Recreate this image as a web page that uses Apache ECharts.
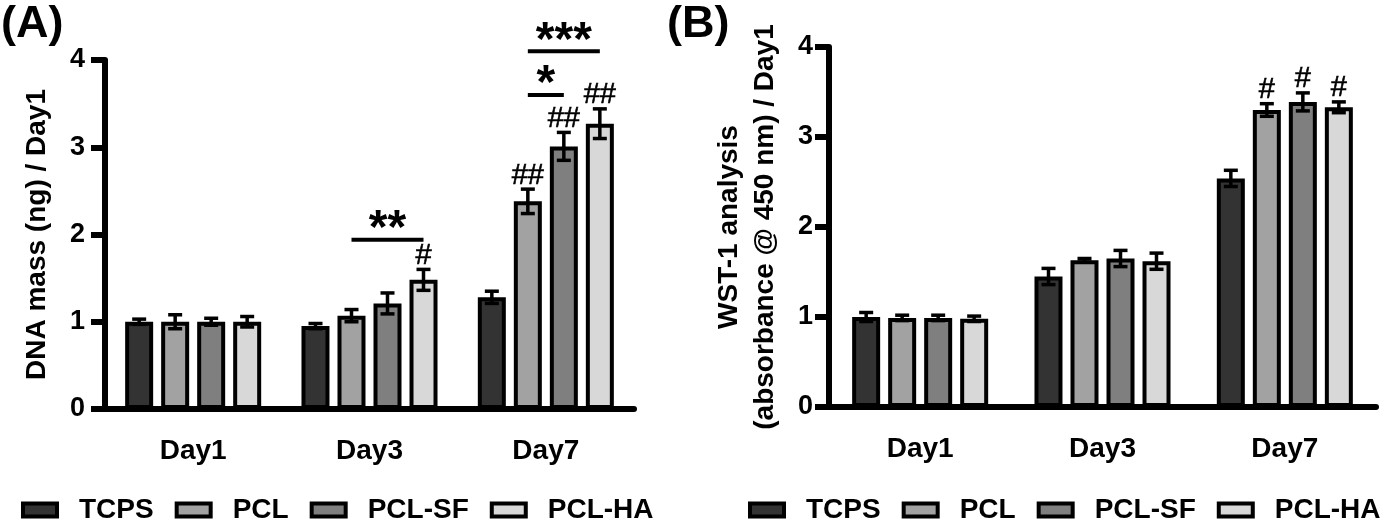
<!DOCTYPE html>
<html><head><meta charset="utf-8">
<script src="https://cdn.jsdelivr.net/npm/echarts@6/dist/echarts.min.js"></script>
<style>html,body{margin:0;padding:0;background:#fff}#c{width:1400px;height:520px}</style>
</head><body><div id="c"></div>
<script>
const categories = ['Day1', 'Day3', 'Day7'];
const groups = ['TCPS', 'PCL', 'PCL-SF', 'PCL-HA'];
const colors = ['#333333', '#a2a2a2', '#7f7f7f', '#d8d8d8'];
const yTicks = [0, 1, 2, 3, 4];

// Panel A: DNA mass (ng) / Day1
const dnaTCPS = [1.00, 0.95, 1.28];
const dnaPCL = [1.00, 1.07, 2.38];
const dnaPCLSF = [1.00, 1.21, 3.01];
const dnaPCLHA = [1.00, 1.48, 3.27];
const dnaErrTCPS = [0.03, 0.03, 0.07];
const dnaErrPCL = [0.08, 0.07, 0.14];
const dnaErrPCLSF = [0.04, 0.12, 0.16];
const dnaErrPCLHA = [0.06, 0.12, 0.17];

// Panel B: WST-1 (absorbance @ 450 nm) / Day1
const wstTCPS = [1.00, 1.45, 2.54];
const wstPCL = [0.99, 1.63, 3.30];
const wstPCLSF = [0.99, 1.65, 3.39];
const wstPCLHA = [0.98, 1.62, 3.33];
const wstErrTCPS = [0.05, 0.09, 0.09];
const wstErrPCL = [0.03, 0.02, 0.07];
const wstErrPCLSF = [0.03, 0.09, 0.10];
const wstErrPCLHA = [0.03, 0.09, 0.06];

// significance marks: [category index, group index, label]
const hashA = [[1, 3, '#'], [2, 1, '##'], [2, 2, '##'], [2, 3, '##']];
const hashB = [[2, 1, '#'], [2, 2, '#'], [2, 3, '#']];
// brackets: [category index, from group, to group, y value, label]
const bracketsA = [[1, 1, 3, 1.94, '**'], [2, 1, 2, 3.60, '*'], [2, 1, 3, 4.10, '***']];

const valsA = [dnaTCPS, dnaPCL, dnaPCLSF, dnaPCLHA];
const errsA = [dnaErrTCPS, dnaErrPCL, dnaErrPCLSF, dnaErrPCLHA];
const valsB = [wstTCPS, wstPCL, wstPCLSF, wstPCLHA];
const errsB = [wstErrTCPS, wstErrPCL, wstErrPCLSF, wstErrPCLHA];

const FONT = 'Liberation Sans';
const BAR_W = 28, STEP = 36;

function errData(vals, errs, hashes) {
  const out = [];
  vals.forEach((arr, g) => arr.forEach((v, c) => {
    const h = hashes.find(x => x[0] === c && x[1] === g);
    out.push([c, g, v, errs[g][c], h ? h[2] : '']);
  }));
  return out;
}

function errRender(params, api) {
  const c = api.value(0), g = api.value(1), v = api.value(2), e = api.value(3);
  const lab = api.value(4);
  const x = api.coord([c, v])[0] + (g - 1.5) * STEP;
  const yt = api.coord([c, v + e])[1];
  const yb = api.coord([c, v - e])[1];
  const st = { stroke: '#000', lineWidth: 3.5 };
  const ch = [
    { type: 'line', shape: { x1: x, y1: yt, x2: x, y2: yb }, style: st },
    { type: 'line', shape: { x1: x - 7, y1: yt, x2: x + 7, y2: yt }, style: st },
    { type: 'line', shape: { x1: x - 7, y1: yb, x2: x + 7, y2: yb }, style: st }
  ];
  if (lab) {
    ch.push({ type: 'text', style: { text: lab, x: x, y: yt + 1, align: 'center', verticalAlign: 'bottom',
      font: 'normal 29px "' + FONT + '"', fill: '#000', stroke: '#000', lineWidth: 0.6 } });
  }
  return { type: 'group', children: ch };
}

function bracketRender(params, api) {
  const c = api.value(0), a = api.value(1), b = api.value(2), y = api.value(3), lab = api.value(4);
  const cx = api.coord([c, y]);
  const x1 = cx[0] + (a - 1.5) * STEP, x2 = cx[0] + (b - 1.5) * STEP;
  return { type: 'group', children: [
    { type: 'line', shape: { x1: x1, y1: cx[1], x2: x2, y2: cx[1] }, style: { stroke: '#000', lineWidth: 4 } },
    { type: 'text', style: { text: lab, x: (x1 + x2) / 2, y: cx[1] - 10, align: 'center', verticalAlign: 'middle',
      font: 'bold 48px "' + FONT + '"', fill: '#000' } }
  ] };
}

const series = [];
[valsA, valsB].forEach((vals, p) => {
  vals.forEach((arr, g) => series.push({
    name: groups[g], type: 'bar', xAxisIndex: p, yAxisIndex: p, data: arr,
    barWidth: BAR_W, barGap: '28.6%',
    itemStyle: { color: colors[g], borderColor: '#000', borderWidth: 4 }
  }));
});
series.push({ type: 'custom', xAxisIndex: 0, yAxisIndex: 0, z: 5, clip: false,
  data: errData(valsA, errsA, hashA), renderItem: errRender });
series.push({ type: 'custom', xAxisIndex: 1, yAxisIndex: 1, z: 5, clip: false,
  data: errData(valsB, errsB, hashB), renderItem: errRender });
series.push({ type: 'custom', xAxisIndex: 0, yAxisIndex: 0, z: 5, clip: false,
  data: bracketsA, renderItem: bracketRender });

function xAx(i) {
  return { type: 'category', gridIndex: i, data: categories,
    axisLine: { lineStyle: { color: '#000', width: 6 } },
    axisTick: { alignWithLabel: true, length: 17, lineStyle: { color: '#000', width: 6 } },
    axisLabel: { color: '#000', fontSize: 28, fontWeight: 'bold', margin: 28, fontFamily: FONT } };
}
function yAx(i, name, gap, lm) {
  return { type: 'value', gridIndex: i, min: 0, max: 4, interval: 1,
    name: name, nameLocation: 'middle', nameGap: gap, nameRotate: 90,
    nameTextStyle: { color: '#000', fontSize: 28, fontWeight: 'bold', fontFamily: FONT, lineHeight: 36 },
    axisLine: { show: true, lineStyle: { color: '#000', width: 6 } },
    axisTick: { show: true, length: 14, lineStyle: { color: '#000', width: 6 } },
    splitLine: { show: false },
    axisLabel: { color: '#000', fontSize: 27, fontWeight: 'bold', margin: lm, fontFamily: FONT } };
}
function leg(left) {
  return { data: groups, left: left, top: 490, icon: 'rect', itemWidth: 34, itemHeight: 13, itemGap: 21,
    itemStyle: { borderColor: '#000', borderWidth: 4 }, selectedMode: false,
    textStyle: { color: '#000', fontSize: 28, fontWeight: 'bold', fontFamily: FONT, padding: [0, 0, 0, 17], lineHeight: 30 } };
}

const option = {
  animation: false,
  textStyle: { fontFamily: FONT },
  title: [
    { text: '(A)', left: 1, top: 2, padding: 0, textStyle: { fontSize: 45, fontWeight: 'bold', color: '#000', fontFamily: FONT } },
    { text: '(B)', left: 667, top: 2, padding: 0, textStyle: { fontSize: 45, fontWeight: 'bold', color: '#000', fontFamily: FONT } }
  ],
  legend: [leg(16), leg(743)],
  grid: [
    { left: 105, top: 60, width: 529, height: 349 },
    { left: 829, top: 47, width: 547, height: 360 }
  ],
  xAxis: [xAx(0), xAx(1)],
  yAxis: [yAx(0, 'DNA mass (ng) / Day1', 50, 20), yAx(1, 'WST-1 analysis\n(absorbance @ 450 nm) / Day1', 46, 16)],
  series: series
};
echarts.init(document.getElementById('c')).setOption(option);
</script></body></html>
